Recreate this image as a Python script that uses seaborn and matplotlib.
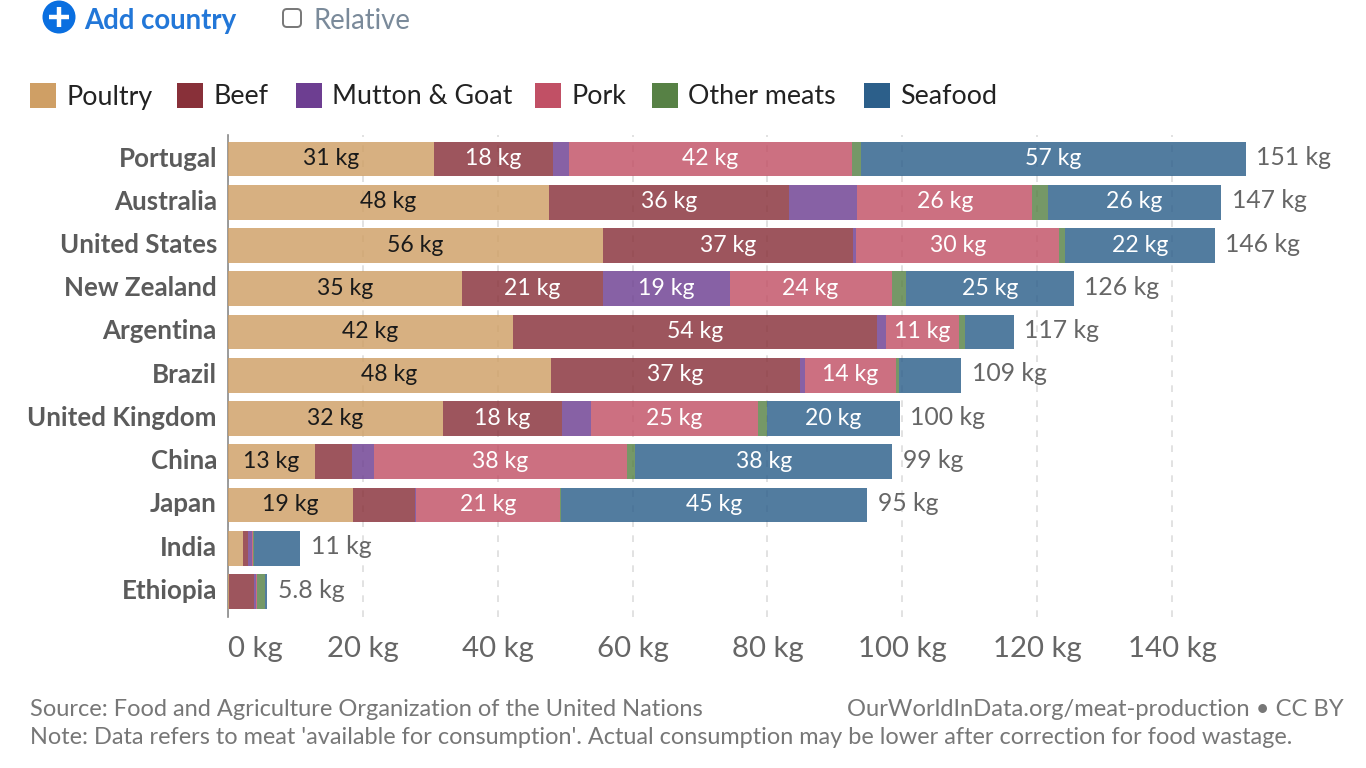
import matplotlib
matplotlib.use('Agg')
import pandas as pd
import seaborn as sns
import matplotlib.pyplot as plt
from matplotlib.patches import Circle, FancyBboxPatch, Rectangle
from matplotlib.transforms import ScaledTranslation

countries = ['Portugal', 'Australia', 'United States', 'New Zealand', 'Argentina', 'Brazil',
             'United Kingdom', 'China', 'Japan', 'India', 'Ethiopia']
poultry = [30.6, 47.6, 55.6, 34.7, 42.3, 47.9, 31.9, 12.9, 18.6, 2.2, 0.1]
beef = [17.6, 35.6, 37.1, 20.9, 54.0, 36.9, 17.6, 5.5, 9.1, 0.7, 3.7]
mutton = [2.3, 10.1, 0.5, 18.8, 1.3, 0.7, 4.3, 3.2, 0.15, 0.6, 0.4]
pork = [42.0, 26.0, 30.1, 24.0, 10.8, 13.6, 24.8, 37.6, 21.4, 0.2, 0.05]
other = [1.4, 2.3, 0.9, 2.2, 0.9, 0.4, 1.3, 1.2, 0.1, 0.1, 1.2]
seafood = [57.0, 25.7, 22.1, 24.8, 7.2, 9.2, 19.7, 38.1, 45.4, 6.9, 0.35]
total_labels = ['151 kg', '147 kg', '146 kg', '126 kg', '117 kg', '109 kg', '100 kg', '99 kg', '95 kg',
                '11 kg', '5.8 kg']
x_ticks = [0, 20, 40, 60, 80, 100, 120, 140]

meats = ['Poultry', 'Beef', 'Mutton & Goat', 'Pork', 'Other meats', 'Seafood']
series = [poultry, beef, mutton, pork, other, seafood]
colors = ['#CF9F65', '#883039', '#6D3E91', '#C15065', '#578145', '#2C5F8A']
text_colors = ['#1a1a1a', 'white', 'white', 'white', 'white', 'white']

sns.set_style('white')
plt.rcParams['font.family'] = ['Lato', 'DejaVu Sans']

W, H = 1366, 768
fig = plt.figure(figsize=(W / 100, H / 100), dpi=100)
ax = fig.add_axes([228 / W, 1 - 617 / H, 1 - 228 / W, (617 - 135) / H])
ax.patch.set_alpha(0)

# stacked bars, one call per meat
lefts = [0.0] * len(countries)
for name, values, color, tcolor in zip(meats, series, colors, text_colors):
    df = pd.DataFrame({'country': countries, 'kg': values})
    sns.barplot(data=df, x='kg', y='country', color=color, saturation=1, alpha=0.82,
                left=lefts, width=0.80, orient='h', ax=ax, zorder=3, linewidth=0)
    for i, v in enumerate(values):
        if v > 10.5:
            ax.text(lefts[i] + v / 2, i - 0.01, f'{v:.0f} kg', ha='center', va='center',
                    fontsize=16.6, color=tcolor, zorder=4)
    lefts = [a + b for a, b in zip(lefts, values)]

for i, label in enumerate(total_labels):
    ax.text(lefts[i] + 1.6, i - 0.03, label, ha='left', va='center', fontsize=17.8, color='#666666', zorder=4)

ax.set_xlim(0, (W - 228) / 6.743)
ax.set_ylim(10.59, -0.555)
ax.set_xlabel('')
ax.set_ylabel('')
ax.set_xticks(x_ticks)
ax.set_xticklabels([f'{t} kg' for t in x_ticks], fontsize=21.2, color='#666666')
ax.get_xticklabels()[0].set_ha('left')
ax.tick_params(axis='x', length=0, pad=13.5)
ax.tick_params(axis='y', length=0, pad=8)
for lab in ax.get_yticklabels():
    lab.set_fontsize(18.6)
    lab.set_fontweight('bold')
    lab.set_color('#5b5b5b')
    lab.set_transform(lab.get_transform() + ScaledTranslation(0, 0.025, fig.dpi_scale_trans))
ax.grid(axis='x', linestyle=(0, (4, 5)), color='#dddddd', linewidth=1.2, zorder=0)
ax.set_axisbelow(True)
for s in ['top', 'right', 'bottom']:
    ax.spines[s].set_visible(False)
ax.spines['left'].set_color('#8a8a8a')
ax.spines['left'].set_linewidth(1.2)

# overlay in pixel coordinates for controls, legend and footer
ov = fig.add_axes([0, 0, 1, 1])
ov.set_xlim(0, W)
ov.set_ylim(H, 0)
ov.axis('off')
ov.patch.set_alpha(0)

ov.add_patch(Circle((59, 17), 16.5, color='#0A6FE0', lw=0))
ov.plot([49, 69], [17, 17], color='white', lw=3.2, solid_capstyle='butt')
ov.plot([59, 59], [7, 27], color='white', lw=3.2, solid_capstyle='butt')
ov.text(84, 21, 'Add country', fontsize=19.9, fontweight='bold', color='#2277D8', ha='left', va='center')
ov.add_patch(FancyBboxPatch((283, 9), 18, 18, boxstyle='round,pad=0,rounding_size=4',
                            fc='white', ec='#777777', lw=1.4))
ov.text(314, 21, 'Relative', fontsize=19.8, color='#7a8a9a', ha='left', va='center')

legend_x = [30, 177, 296, 535, 652, 864]
for x0, name, color in zip(legend_x, meats, colors):
    ov.add_patch(Rectangle((x0, 83), 26, 25, fc=color, ec='none'))
    ov.text(x0 + 36.5, 97, name, fontsize=19.3, color='#222222', ha='left', va='center')

ov.text(30, 710, 'Source: Food and Agriculture Organization of the United Nations', fontsize=17.0,
        color='#777777', ha='left', va='center')
ov.text(1344, 710, 'OurWorldInData.org/meat-production • CC BY', fontsize=17.1,
        color='#777777', ha='right', va='center')
ov.text(30, 737, "Note: Data refers to meat 'available for consumption'. Actual consumption may be lower after correction for food wastage.",
        fontsize=16.9, color='#777777', ha='left', va='center')

fig.savefig('out.png', dpi=100)
